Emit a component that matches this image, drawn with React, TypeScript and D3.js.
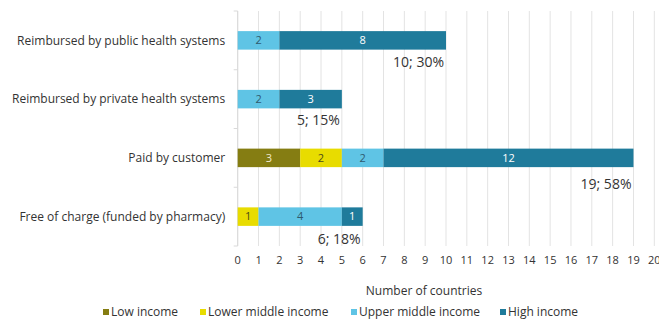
import React from "react";
import * as d3 from "d3";

const categories = [
  "Reimbursed by public health systems",
  "Reimbursed by private health systems",
  "Paid by customer",
  "Free of charge (funded by pharmacy)",
];
const seriesNames = ["Low income", "Lower middle income", "Upper middle income", "High income"];
const lowIncome = [0, 0, 3, 0];
const lowerMiddle = [0, 0, 2, 1];
const upperMiddle = [2, 2, 2, 4];
const highIncome = [8, 3, 12, 1];
const totalLabels = ["10; 30%", "5; 15%", "19; 58%", "6; 18%"];
const xTicks = d3.range(0, 21);

const colors = ["#857d12", "#e8dc00", "#5fc4e5", "#1f7b9b"];
const labelColors = ["#f3ecd0", "#4a4a1a", "#2e5a6e", "#ffffff"];
const totalOffsets = [21.5, 21, 26.5, 22.5];

const W = 659;
const H = 322;
const M = { left: 237.7, right: 4.7, top: 11, bottom: 76 };

export default function App() {
  const x = d3.scaleLinear().domain([0, 20]).range([M.left, W - M.right]);
  const y = d3
    .scaleBand<string>()
    .domain(categories)
    .range([M.top, H - M.bottom])
    .paddingInner(0.685)
    .paddingOuter(0.3425);
  const series = [lowIncome, lowerMiddle, upperMiddle, highIncome];
  const table = categories.map((c, i) => {
    const o: any = { cat: c };
    seriesNames.forEach((s, j) => (o[s] = series[j][i]));
    return o;
  });
  const stacked = d3.stack<any>().keys(seriesNames)(table);
  const font = "'Open Sans', 'Noto Sans', sans-serif";
  const legendX = [103, 200, 351, 500];

  return (
    <svg width={W} height={H} style={{ position: "absolute", left: 0, top: 0 }} fontFamily={font}>
      {xTicks.map((t) => (
        <line key={t} x1={x(t)} x2={x(t)} y1={M.top} y2={H - M.bottom} stroke="#e3e3e3" strokeWidth={1} />
      ))}
      <line x1={M.left} x2={M.left} y1={M.top} y2={H - M.bottom} stroke="#d9d9d9" />
      {d3.range(0, 5).map((i) => {
        const yy = M.top + (i * (H - M.bottom - M.top)) / 4;
        return <line key={i} x1={M.left - 4} x2={M.left} y1={yy} y2={yy} stroke="#d9d9d9" />;
      })}
      {stacked.map((layer, j) =>
        layer.map((d, i) => {
          const v = d[1] - d[0];
          if (v <= 0) return null;
          const bx = x(d[0]);
          const bw = x(d[1]) - x(d[0]);
          const by = y(categories[i])!;
          return (
            <g key={`${j}-${i}`}>
              <rect x={bx} y={by} width={bw} height={y.bandwidth()} fill={colors[j]} />
              <text
                x={bx + bw / 2}
                y={by + y.bandwidth() / 2}
                dy="0.35em"
                textAnchor="middle"
                fontSize={11}
                fill={labelColors[j]}
              >
                {v}
              </text>
            </g>
          );
        })
      )}
      {categories.map((c, i) => {
        const total = lowIncome[i] + lowerMiddle[i] + upperMiddle[i] + highIncome[i];
        const cy = y(c)! + y.bandwidth() / 2;
        return (
          <g key={c}>
            <text x={M.left - 12.5} y={cy} dy="0.35em" textAnchor="end" fontSize={12} fill="#333">
              {c}
            </text>
            <text x={x(total) - 2} y={cy + totalOffsets[i]} dy="0.35em" textAnchor="end" fontSize={14} fill="#333">
              {totalLabels[i]}
            </text>
          </g>
        );
      })}
      {xTicks.map((t) => (
        <text key={t} x={x(t)} y={260} dy="0.35em" textAnchor="middle" fontSize={11} fill="#333">
          {t}
        </text>
      ))}
      <text x={424} y={291} dy="0.35em" textAnchor="middle" fontSize={12} fill="#333">
        Number of countries
      </text>
      {seriesNames.map((s, j) => (
        <g key={s}>
          <rect x={legendX[j]} y={309} width={6} height={6} fill={colors[j]} />
          <text x={legendX[j] + 8} y={312} dy="0.35em" fontSize={12} fill="#333">
            {s}
          </text>
        </g>
      ))}
    </svg>
  );
}
